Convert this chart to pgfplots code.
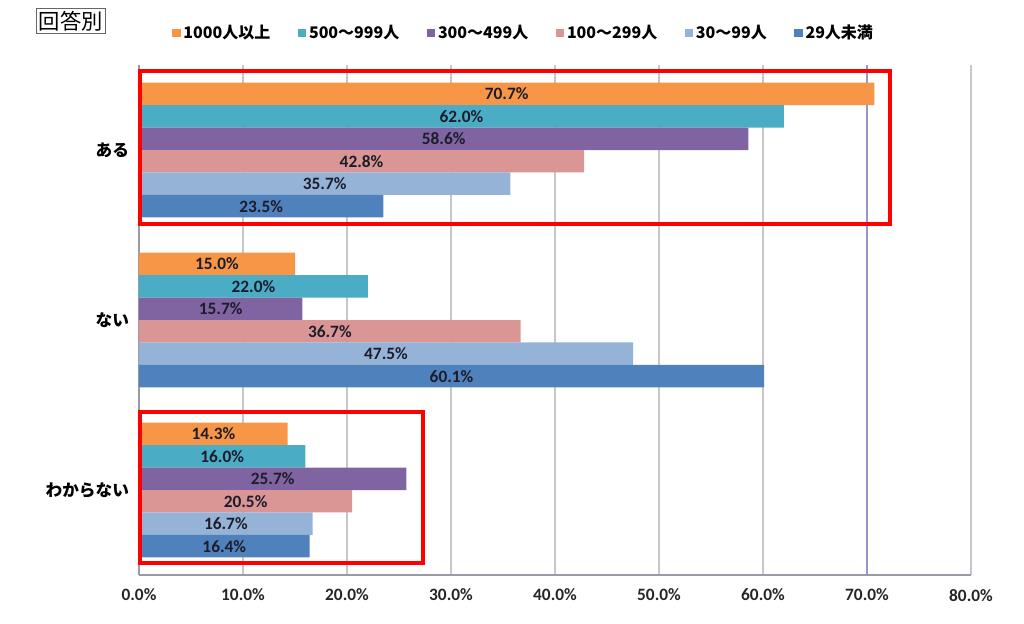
\documentclass[border=0pt]{standalone}
\usepackage{pgfplots}
\pgfplotsset{compat=1.18}
\usepackage{fontspec}
\setmainfont{Carlito}
\newfontfamily\jp{Noto Sans CJK JP}
\definecolor{cA}{HTML}{F79646}
\definecolor{cB}{HTML}{4BACC6}
\definecolor{cC}{HTML}{8064A2}
\definecolor{cD}{HTML}{DA9694}
\definecolor{cE}{HTML}{95B3D7}
\definecolor{cF}{HTML}{4F81BD}
\definecolor{gridc}{HTML}{C6C6CC}
\definecolor{axc}{HTML}{9A9AA6}
\definecolor{labc}{HTML}{1C1C2A}
\definecolor{g70}{HTML}{9696C8}
\begin{document}
\begin{tikzpicture}
\path[use as bounding box] (-104.25pt,-36.75pt) rectangle (663.75pt,431.25pt);
\node[draw=gray!80!black, line width=0.8pt, inner sep=2pt, font=\jp\fontsize{16}{18}\selectfont] at (-51pt,415.5pt) {回答別};
\begin{axis}[
  at={(0,0)}, anchor=south west,
  scale only axis, width=624pt, height=382.5pt,
  xbar, bar width=0.132,
  xmin=0, xmax=80, ymin=-0.5, ymax=2.5, y dir=reverse,
  clip=false,
  /pgf/number format/assume math mode=true,
  axis x line*=bottom, axis y line*=left,
  axis line style={draw=axc, line width=0.8pt},
  xtick={0,10,...,80},
  xticklabel={\pgfmathprintnumber[fixed,fixed zerofill,precision=1]{\tick}\%},
  ytick={0,1,2}, yticklabels={ある,ない,わからない},
  yticklabel style={font=\jp\bfseries\fontsize{12.5}{14}\selectfont, xshift=-4pt, text=black},
  xticklabel style={font=\bfseries\fontsize{13}{15}\selectfont, yshift=-7pt, text=black!85},
  major tick length=0pt,
  xmajorgrids, major grid style={draw=gridc, line width=0.8pt},
  point meta=x,
  visualization depends on={x \as \rawx},
  nodes near coords={\pgfmathprintnumber[fixed,fixed zerofill,precision=1]{\pgfplotspointmeta}\%},
  nodes near coords align={center},
  every node near coord/.append style={anchor=center, font=\bfseries\fontsize{13}{15}\selectfont, text=labc, shift={(axis direction cs:-\rawx/2,0)}},
  legend style={at={(axis description cs:0.0397,1.0627)}, anchor=west, draw=none, fill=none,
    font=\jp\bfseries\fontsize{12}{14}\selectfont, inner sep=0pt,
    /tikz/every even column/.append style={column sep=18.5pt}},
  legend columns=6,
  legend image code/.code={\fill[#1,draw=none] (0pt,-3.2pt) rectangle (6.4pt,3.2pt);},
]
\draw[draw=g70, line width=0.8pt] (axis cs:70,-0.5) -- (axis cs:70,2.5);
\addplot[fill=cA, draw=none, bar shift=-0.33] coordinates {(70.7,0) (15.0,1) (14.3,2)};
\addplot[fill=cB, draw=none, bar shift=-0.198] coordinates {(62.0,0) (22.0,1) (16.0,2)};
\addplot[fill=cC, draw=none, bar shift=-0.066] coordinates {(58.6,0) (15.7,1) (25.7,2)};
\addplot[fill=cD, draw=none, bar shift=0.066] coordinates {(42.8,0) (36.7,1) (20.5,2)};
\addplot[fill=cE, draw=none, bar shift=0.198] coordinates {(35.7,0) (47.5,1) (16.7,2)};
\addplot[fill=cF, draw=none, bar shift=0.33] coordinates {(23.5,0) (60.1,1) (16.4,2)};
\legend{1000人以上,500～999人,300～499人,100～299人,30～99人,29人未満}
\draw[red, line width=3pt] (axis cs:0.1,-0.465) rectangle (axis cs:72.2,0.435);
\draw[red, line width=3pt] (axis cs:0.1,1.541) rectangle (axis cs:27.3,2.429);
\end{axis}
\end{tikzpicture}
\end{document}
